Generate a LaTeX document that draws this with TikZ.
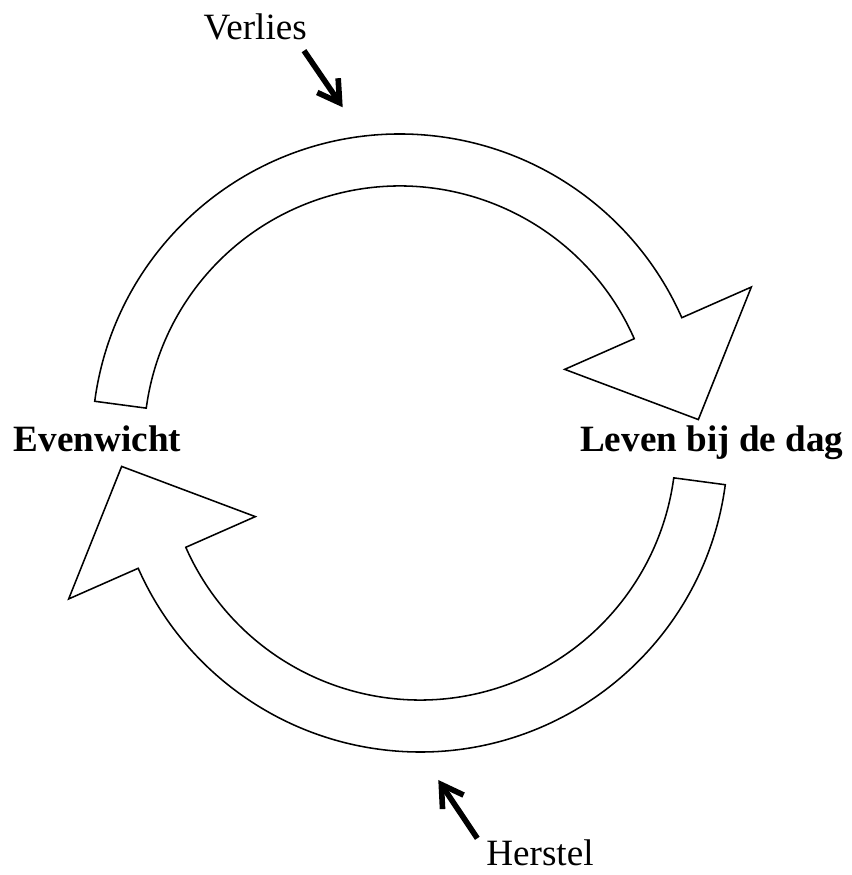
\documentclass[tikz,border=0pt]{standalone}
\usepackage{fontspec}
\setmainfont{Liberation Serif}
\usetikzlibrary{arrows.meta}

\tikzset{
  kringpijl/.pic={
    \draw[blokrand] (172.4:308) arc[start angle=172.4,end angle=23.8,radius=308]
      -- (23.8:384) -- (4.3:299.2) -- (23.8:180) -- (23.8:256)
      arc[start angle=23.8,end angle=172.4,radius=256] -- cycle;
  }
}

\begin{document}
\begin{tikzpicture}[x=0.025cm,y=0.025cm,
  blokrand/.style={line width=1.1pt,line join=miter},
  duwpijl/.style={line width=4pt,-{Straight Barb[length=15pt,width=18pt]}},
  tekst/.style={font=\fontsize{26.4}{30}\selectfont,anchor=base,inner sep=0pt}]
  \useasboundingbox (0,0) rectangle (851,875);
  % de twee kringpijlen
  \pic at (400,433) {kringpijl};
  \pic[rotate=180] at (420,431) {kringpijl};
  % teksten
  \node[tekst] (verlies) at (255.2,835.7) {Verlies};
  \node[tekst] (herstel) at (540,9.3) {Herstel};
  \node[tekst,font=\fontsize{26.4}{30}\selectfont\bfseries] (evenwicht) at (97.5,423.5) {Evenwicht};
  \node[tekst,font=\fontsize{26.4}{30}\selectfont\bfseries] (leven) at (711.7,423.5) {Leven bij de dag};
  % duwpijlen
  \coordinate (verliesvan) at (304,824.3);
  \coordinate (verliesnaar) at (342.7,767.7);
  \coordinate (herstelvan) at (477.3,36.7);
  \coordinate (herstelnaar) at (438.3,95);
  \draw[duwpijl] (verliesvan) -- (verliesnaar);
  \draw[duwpijl] (herstelvan) -- (herstelnaar);
\end{tikzpicture}
\end{document}
